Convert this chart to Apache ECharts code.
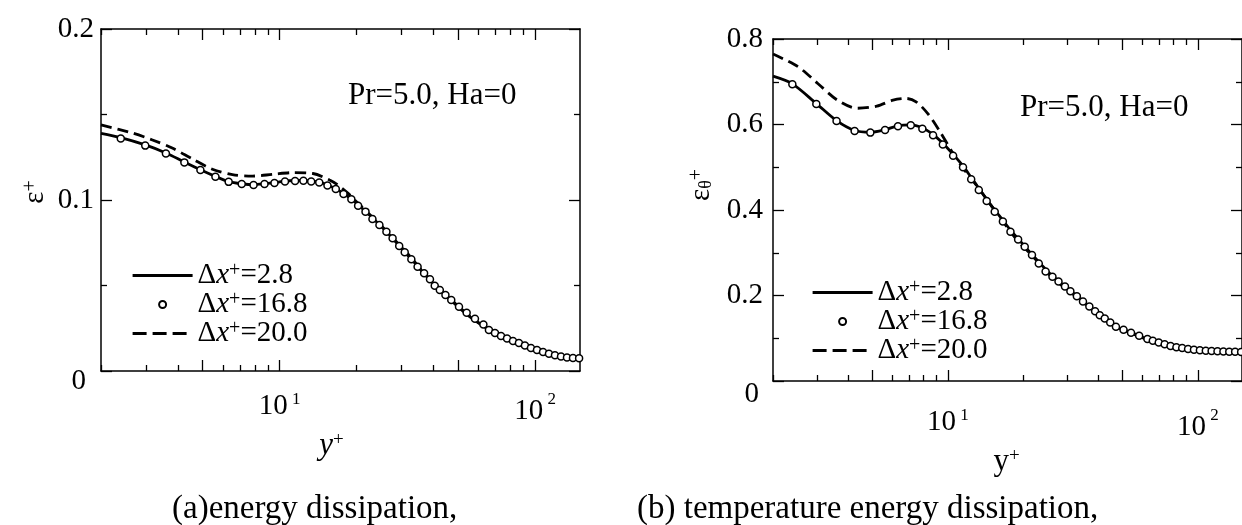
<!DOCTYPE html>
<html><head><meta charset="utf-8">
<script src="https://cdn.jsdelivr.net/npm/echarts@6/dist/echarts.min.js"></script>
<style>html,body{margin:0;padding:0;background:#fff}#c{width:1242px;height:525px}</style>
</head><body><div id="c"></div>
<script>
const FONT = 'Liberation Serif';

// x range and tick values (y+)
const xMin = 2, xMax = 150;
const majorTicks = [5, 10, 50, 100];
const minorTicks = [2, 3, 4, 6, 7, 8, 9, 20, 30, 40, 60, 70, 80, 90];
const decadeLabels = [10, 100];

// legend labels
const dxLabels = ['2.8', '16.8', '20.0'];

// (a) energy dissipation
const epsSolid = [[2,0.139],[2.39,0.1365],[2.98,0.1322],[3.59,0.1275],[4.24,0.1222],[4.9,0.1177],[5.61,0.1138],[6.32,0.1108],[7.11,0.1095],[7.91,0.109],[8.73,0.1095],[9.55,0.1102],[10.5,0.111],[11.5,0.1114],[12.4,0.1115],[13.3,0.1111],[14.3,0.1104],[15.4,0.1088],[16.6,0.1066],[17.8,0.1038],[19.1,0.1006],[20.5,0.0966],[22,0.0925],[24,0.0872],[26,0.082],[28,0.0768],[30,0.0716],[33,0.065],[36,0.0585],[40,0.051],[45,0.044],[50,0.0375],[57,0.0305],[65,0.0248],[73,0.0203],[85,0.0158],[98,0.0125],[115,0.0098],[133,0.008],[150,0.0074]];
const epsDashed = [[2,0.1439],[2.65,0.1392],[3.18,0.1351],[3.8,0.1304],[4.56,0.124],[5.46,0.118],[6.54,0.1148],[7.84,0.114],[9.39,0.115],[11.25,0.116],[13.5,0.1155],[15.7,0.1117],[16.9,0.1088],[18.5,0.104],[20,0.099],[22,0.093],[25,0.085],[28,0.0772],[32,0.068],[36,0.059],[40,0.0515],[45,0.0445],[50,0.038],[57,0.0308],[65,0.025],[73,0.0205],[85,0.016],[98,0.0126],[115,0.0099],[133,0.0081],[150,0.0075]];

// grid positions of the Δx+=16.8 case (shared by both panels)
const circleX = [2.39,2.98,3.59,4.24,4.90,5.61,6.32,7.11,7.91,8.73,9.55,10.5,11.5,12.4,13.3,14.3,15.4,16.6,17.8,19.1,20.3,21.7,23.1,24.6,26.2,27.7,29.4,30.9,32.8,34.7,36.8,38.8,40.5,42.4,44.6,47.0,50.4,54.0,58.2,62.8,66.0,69.7,73.6,77.7,82.0,86.5,91.3,96.4,101.8,107.5,113.4,119.7,126.4,133.4,140.8,148.8];
const epsCircleY = [0.136,0.1318,0.1272,0.1220,0.1175,0.1136,0.1106,0.1093,0.1088,0.1094,0.1100,0.1108,0.1111,0.1113,0.1108,0.1102,0.1085,0.1064,0.1035,0.1004,0.0967,0.0932,0.0889,0.0854,0.0815,0.0776,0.0731,0.0694,0.0653,0.0610,0.0571,0.0536,0.0499,0.0474,0.0444,0.0415,0.0376,0.0341,0.0305,0.0272,0.0240,0.0222,0.0205,0.0190,0.0175,0.0164,0.0149,0.0135,0.0123,0.0111,0.0101,0.0092,0.0085,0.0079,0.0076,0.0074];

// (b) temperature energy dissipation
const epsTSolid = [[2,0.713],[2.39,0.695],[2.98,0.649],[3.59,0.609],[4.24,0.586],[4.9,0.582],[5.61,0.588],[6.32,0.597],[7.11,0.599],[7.91,0.592],[8.73,0.577],[9.55,0.556],[10.5,0.53],[11.5,0.503],[12.4,0.476],[13.3,0.451],[14.3,0.425],[15.4,0.4],[16.6,0.376],[17.8,0.353],[19.1,0.333],[20.3,0.315],[21.7,0.296],[23.5,0.274],[25.7,0.25],[30,0.217],[35,0.1855],[40,0.155],[47,0.127],[55,0.1116],[64,0.0959],[74,0.0842],[86,0.0765],[100,0.0725],[116,0.0702],[135,0.0685],[150,0.068]];
const epsTDashed = [[2,0.765],[2.52,0.735],[3.02,0.696],[3.62,0.657],[4.34,0.638],[5.2,0.643],[6.04,0.657],[6.82,0.661],[7.47,0.653],[8.3,0.626],[9.22,0.587],[10.4,0.536],[11.4,0.501],[12.7,0.466],[13.9,0.435],[15,0.408],[17,0.365],[19,0.328],[21,0.302],[23.5,0.272],[26,0.243],[30,0.214],[35,0.183],[40,0.156],[47,0.127],[55,0.11],[64,0.095],[74,0.084],[86,0.0765],[100,0.0725],[116,0.07],[135,0.0685],[150,0.068]];
const epsTCircleY = [0.694,0.648,0.608,0.585,0.581,0.587,0.596,0.598,0.590,0.575,0.553,0.527,0.500,0.472,0.447,0.421,0.396,0.373,0.349,0.331,0.314,0.295,0.275,0.256,0.244,0.233,0.221,0.210,0.198,0.186,0.174,0.163,0.154,0.146,0.137,0.127,0.120,0.113,0.106,0.098,0.094,0.090,0.086,0.082,0.079,0.077,0.075,0.073,0.072,0.071,0.0703,0.0697,0.069,0.0686,0.0683,0.068];

const names = dxLabels.map(v => 'Δx+=' + v);
const lg10 = Math.log10;
const BLACK = '#000';

function tickAxis(gi, pos, values, len, showLine, extra) {
  return Object.assign({
    type: 'value', gridIndex: gi, position: pos,
    min: lg10(xMin), max: lg10(xMax),
    axisLine: { show: showLine, onZero: false, lineStyle: { color: BLACK, width: 1.5 } },
    axisTick: { show: true, inside: true, length: len, customValues: values.map(lg10), lineStyle: { color: BLACK, width: 1.3 } },
    axisLabel: { show: false },
    splitLine: { show: false }
  }, extra || {});
}
function xLabelCfg(margin) {
  return {
    show: true, margin: margin, customValues: decadeLabels.map(lg10),
    formatter: v => Math.round(v) === 1 ? '{n|10}{s| 1}' : '{m|10}{s| 2}',
    rich: {
      n: { fontFamily: FONT, fontSize: 29, color: BLACK, lineHeight: 30 },
      m: { fontFamily: FONT, fontSize: 29, color: BLACK, lineHeight: 30, padding: [10, 0, 0, 0] },
      s: { fontFamily: FONT, fontSize: 17, color: BLACK, verticalAlign: 'top', lineHeight: 16 }
    }
  };
}
function yAxisDef(gi, pos, max, interval, labels, extra) {
  return Object.assign({
    type: 'value', gridIndex: gi, position: pos, min: 0, max: max, interval: interval,
    axisLine: { show: true, onZero: false, lineStyle: { color: BLACK, width: 1.5 } },
    axisTick: { show: true, inside: true, length: 11, lineStyle: { color: BLACK, width: 1.3 } },
    minorTick: { show: true, splitNumber: 2, length: 6, lineStyle: { color: BLACK, width: 1.3 } },
    splitLine: { show: false }, minorSplitLine: { show: false },
    axisLabel: labels ? {
      show: true, margin: labels.margin,
      formatter: v => v === 0 ? '{z|0}' : '{t|' + v.toFixed(1) + '}',
      rich: {
        t: { fontFamily: FONT, fontSize: 29, color: BLACK },
        z: { fontFamily: FONT, fontSize: 29, color: BLACK, padding: [labels.ztop, labels.zpad, 0, 0] }
      }
    } : { show: false }
  }, extra || {});
}
function panelSeries(gi, solid, circleY, dashed) {
  const xi = gi * 5, yi = gi * 2;
  return [
    { type: 'line', name: names[0], xAxisIndex: xi, yAxisIndex: yi, data: solid, symbol: 'none', showSymbol: false, smooth: 0.3,
      itemStyle: { color: BLACK }, lineStyle: { color: BLACK, width: 2.8 }, z: 3 },
    { type: 'line', name: names[2], xAxisIndex: xi, yAxisIndex: yi, data: dashed, symbol: 'none', showSymbol: false, smooth: 0.3,
      itemStyle: { color: BLACK }, lineStyle: { color: BLACK, width: 2.8, type: [11, 6] }, z: 3 },
    { type: 'scatter', name: names[1], xAxisIndex: xi, yAxisIndex: yi, data: circleX.map((x, i) => [x, circleY[i]]),
      symbol: 'circle', symbolSize: 7, itemStyle: { color: '#fff', borderColor: BLACK, borderWidth: 1.5, opacity: 1 }, z: 5 }
  ];
}
const legendRich = {
  d: { fontFamily: FONT, fontSize: 29, color: BLACK, lineHeight: 29 },
  x: { fontFamily: FONT, fontSize: 29, color: BLACK, fontStyle: 'italic', lineHeight: 29 },
  p: { fontFamily: FONT, fontSize: 20, color: BLACK, verticalAlign: 'top', lineHeight: 18 },
  t: { fontFamily: FONT, fontSize: 29, color: BLACK, lineHeight: 29 }
};
function legendDef(left, top) {
  return {
    orient: 'vertical', left: left, top: top, itemWidth: 60, itemHeight: 7, itemGap: 0,
    selectedMode: false,
    lineStyle: { width: 3.2 },
    data: [
      { name: names[0], itemStyle: { opacity: 0 } },
      { name: names[1] },
      { name: names[2], itemStyle: { opacity: 0 }, lineStyle: { width: 3.2, type: [14, 6] } }
    ],
    formatter: nm => '{d|Δ}{x|x}{p|+}{t|=' + nm.split('=')[1] + '}',
    textStyle: { fontFamily: FONT, fontSize: 29, color: BLACK, rich: legendRich }
  };
}

const option = {
  animation: false,
  backgroundColor: '#fff',
  grid: [
    { left: 101, top: 29, width: 479, height: 342 },
    { left: 773, top: 39, width: 478, height: 342 }
  ],
  xAxis: [
    { type: 'log', logBase: 10, gridIndex: 0, min: xMin, max: xMax, show: false },
    tickAxis(0, 'bottom', majorTicks, 11, true, {
      axisLabel: xLabelCfg(20),
      name: '{y|y}{p|+}', nameLocation: 'middle', nameGap: 52,
      nameTextStyle: { padding: [0, 18, 0, 0], rich: {
        y: { fontFamily: FONT, fontSize: 31, fontStyle: 'italic', color: BLACK, lineHeight: 30 },
        p: { fontFamily: FONT, fontSize: 19, color: BLACK, verticalAlign: 'top', lineHeight: 19 } } }
    }),
    tickAxis(0, 'bottom', minorTicks, 6, false),
    tickAxis(0, 'top', majorTicks, 11, true),
    tickAxis(0, 'top', minorTicks, 6, false),
    { type: 'log', logBase: 10, gridIndex: 1, min: xMin, max: xMax, show: false },
    tickAxis(1, 'bottom', majorTicks, 11, true, {
      axisLabel: xLabelCfg(26),
      name: '{y|y}{p|+}', nameLocation: 'middle', nameGap: 56,
      nameTextStyle: { padding: [0, 2, 0, 0], rich: {
        y: { fontFamily: FONT, fontSize: 31, color: BLACK, lineHeight: 30 },
        p: { fontFamily: FONT, fontSize: 19, color: BLACK, verticalAlign: 'top', lineHeight: 19 } } }
    }),
    tickAxis(1, 'bottom', minorTicks, 6, false),
    tickAxis(1, 'top', majorTicks, 11, true),
    tickAxis(1, 'top', minorTicks, 6, false)
  ],
  yAxis: [
    yAxisDef(0, 'left', 0.2, 0.1, { margin: 7, zpad: 8, ztop: 20 }, {
      name: '{e|ε}{s|+}', nameLocation: 'middle', nameRotate: 90, nameGap: 52,
      nameTextStyle: { padding: [0, 0, 0, 16], rich: {
        e: { fontFamily: FONT, fontSize: 29, color: BLACK, lineHeight: 28 },
        s: { fontFamily: FONT, fontSize: 20, color: BLACK, verticalAlign: 'top', lineHeight: 19 } } }
    }),
    yAxisDef(0, 'right', 0.2, 0.1, null),
    yAxisDef(1, 'left', 0.8, 0.2, { margin: 10, zpad: 4, ztop: 26 }, {
      name: '{e|ε}{b|θ}{s|+}', nameLocation: 'middle', nameRotate: 90, nameGap: 58,
      nameTextStyle: { padding: [0, 0, 0, 50], rich: {
        e: { fontFamily: FONT, fontSize: 29, color: BLACK, lineHeight: 28 },
        b: { fontFamily: FONT, fontSize: 18, color: BLACK, verticalAlign: 'bottom', lineHeight: 18 },
        s: { fontFamily: FONT, fontSize: 20, color: BLACK, verticalAlign: 'top', lineHeight: 19 } } }
    }),
    yAxisDef(1, 'right', 0.8, 0.2, null)
  ],
  legend: [legendDef(126, 256), legendDef(806, 273)],
  graphic: [
    { type: 'text', left: 348, top: 80, style: { text: 'Pr=5.0, Ha=0', font: '31px "Liberation Serif"', fill: BLACK } },
    { type: 'text', left: 1020, top: 92, style: { text: 'Pr=5.0, Ha=0', font: '31px "Liberation Serif"', fill: BLACK } },
    { type: 'text', left: 172, top: 493, style: { text: '(a)energy dissipation,', font: '33px "Liberation Serif"', fill: BLACK } },
    { type: 'text', left: 637, top: 493, style: { text: '(b) temperature energy dissipation,', font: '33px "Liberation Serif"', fill: BLACK } }
  ],
  series: [].concat(
    panelSeries(0, epsSolid, epsCircleY, epsDashed),
    panelSeries(1, epsTSolid, epsTCircleY, epsTDashed)
  )
};
const chart = echarts.init(document.getElementById('c'), null, { renderer: 'canvas' });
chart.setOption(option);
</script></body></html>
